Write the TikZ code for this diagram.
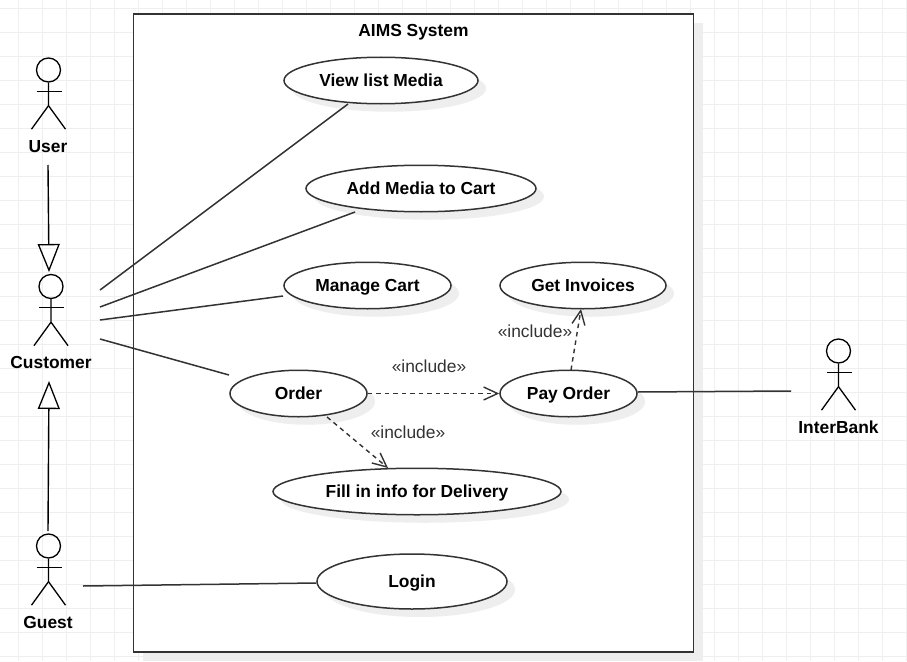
\documentclass[tikz,border=0pt]{standalone}
\usepackage{fontspec}
\setmainfont{Liberation Sans}
\usetikzlibrary{shapes.geometric,arrows.meta,shadows,calc}
\definecolor{gridc}{HTML}{EFEFEF}
\definecolor{shadowc}{HTML}{EEEEEE}
\definecolor{linec}{HTML}{333333}
\tikzset{
  x=1pt,y=-1pt,
  lbl/.style={font=\fontsize{17.4}{20}\selectfont\bfseries,text=black,inner sep=0pt,text height=12.5pt,text depth=0pt},
  inc/.style={font=\fontsize{17.4}{20}\selectfont,text=linec,inner sep=0pt},
  usecase/.style={shape=ellipse,draw=linec,line width=1.5pt,fill=white,inner sep=0pt,
    minimum height=46.5pt,font=\fontsize{17.4}{20}\selectfont\bfseries,text height=12.5pt,text depth=0pt,
    general shadow={fill=shadowc,shadow xshift=8pt,shadow yshift=-8pt}},
  head/.style={shape=circle,draw=black,line width=1.3pt,minimum size=24pt,inner sep=0pt},
  limb/.style={draw=black,line width=1.3pt},
  assoc/.style={draw=linec,line width=1.5pt},
  gener/.style={draw=black,line width=1.4pt,-{Triangle[open,length=28pt,width=22pt,line width=1.3pt]}},
  incl/.style={draw=linec,line width=1.4pt,dash pattern=on 4.5pt off 4pt,-{Straight Barb[length=14pt,width=13pt,line width=1.4pt]}},
}
\newcommand{\actorlimbs}[1]{%
  \draw[limb] (#1.south) -- ++(0,23) coordinate (#1hip) -- ++(-17,23.5);
  \draw[limb] (#1hip) -- ++(17,23.5);
  \draw[limb] ($(#1.south)+(-12,8.5)$) -- ++(25,0);
}
\begin{document}
\begin{tikzpicture}
\useasboundingbox (0,0) rectangle (907,661);
\fill[white] (0,0) rectangle (907,661);
% background grid
\foreach \gx in {0,...,37} {\draw[gridc,line width=1pt] ({18.5+24*\gx},0) -- ({18.5+24*\gx},661);}
\foreach \gy in {0,...,27} {\draw[gridc,line width=1pt] (0,{8.5+24*\gy}) -- (907,{8.5+24*\gy});}
% system boundary
\fill[shadowc] (142.5,23) rectangle (702.5,661);
\node[draw=linec,line width=1.7pt,fill=white,minimum width=560pt,minimum height=638pt,inner sep=0pt,outer sep=0pt,anchor=north west] (system) at (133.5,14) {};
\node[lbl] (title) at (413.5,30) {AIMS System};
% use cases
\node[usecase,minimum width=194pt] (view) at (381,80.5) {View list Media};
\node[usecase,minimum width=230pt] (add) at (421,188.5) {Add Media to Cart};
\node[usecase,minimum width=167pt] (manage) at (367.5,285.5) {Manage Cart};
\node[usecase,minimum width=166pt] (invoices) at (583,285.5) {Get Invoices};
\node[usecase,minimum width=137pt] (order) at (298.5,393.5) {Order};
\node[usecase,minimum width=137pt] (pay) at (568.5,393.5) {Pay Order};
\node[usecase,minimum width=288pt] (fill) at (417,491.5) {Fill in info for Delivery};
\node[usecase,minimum width=190pt,minimum height=55pt] (login) at (412,581.5) {Login};
% actors
\node[head] (userh) at (48.5,70) {};
\node[head] (custh) at (51,286.5) {};
\node[head] (guesth) at (48.5,546) {};
\node[head] (bankh) at (838.5,351) {};
\actorlimbs{userh}
\actorlimbs{custh}
\actorlimbs{guesth}
\actorlimbs{bankh}
\node[lbl] (userl) at (48,146) {User};
\node[lbl] (custl) at (51,362.5) {Customer};
\node[lbl] (guestl) at (48,622) {Guest};
\node[lbl] (bankl) at (838.5,427) {InterBank};
% free connector ends
\coordinate (uTop) at (48,165);
\coordinate (cTop) at (49,272);
\coordinate (gTop) at (48,531);
\coordinate (cBot) at (49,381);
\coordinate (c1) at (100,290);
\coordinate (c2) at (100,307);
\coordinate (c3) at (100,320);
\coordinate (c4) at (100,339);
\coordinate (v1) at (348,104);
\coordinate (a1) at (355,212);
\coordinate (m1) at (283,296);
\coordinate (o1) at (229,375);
\coordinate (gR) at (83,586);
\coordinate (bL) at (791,391);
\coordinate (oB) at (327,417);
\coordinate (fT) at (388,468);
\coordinate (pT) at (571,370);
\coordinate (iB) at (581,309);
% connectors
\draw[gener] (uTop) -- (cTop);
\draw[gener] (gTop) -- (cBot);
\draw[assoc] (c1) -- (v1);
\draw[assoc] (c2) -- (a1);
\draw[assoc] (c3) -- (m1);
\draw[assoc] (c4) -- (o1);
\draw[assoc] (gR) -- ([yshift=-1.5pt]login.west);
\draw[assoc] ([yshift=1.5pt]pay.east) -- (bL);
\draw[incl] (order.east) -- (pay.west);
\draw[incl] (oB) -- (fT);
\draw[incl] (pT) -- (iB);
% include labels
\node[inc] (inc1) at (429,366) {«include»};
\node[inc] (inc2) at (408,432) {«include»};
\node[inc] (inc3) at (535,331) {«include»};
\end{tikzpicture}
\end{document}
